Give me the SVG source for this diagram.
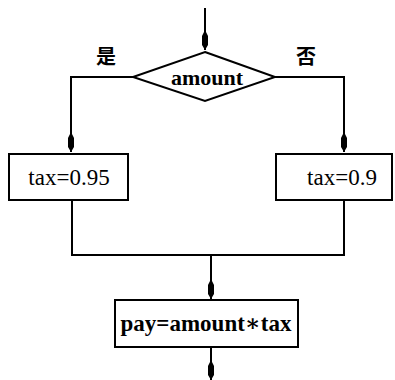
<svg xmlns="http://www.w3.org/2000/svg" width="395" height="380" viewBox="0 0 395 380">
<style>
.ln{fill:none;stroke:#000;stroke-width:2}
.bx{fill:#fff;stroke:#000;stroke-width:2}
.ah{fill:#000}
.t{font-family:"Liberation Serif","DejaVu Serif","Times New Roman",serif;text-anchor:middle;fill:#000}
.cn{font-family:"Noto Sans CJK SC","Noto Sans CJK JP",sans-serif;font-size:20px;font-weight:bold;text-anchor:middle;fill:#000}
</style>
<defs>
<marker id="ah" markerUnits="userSpaceOnUse" markerWidth="18" markerHeight="8" viewBox="0 0 18 8" refX="18" refY="4" orient="auto">
<path class="ah" d="M0,3 L4,1 L13,1 L18,4 L13,7 L4,7 L0,5 z"/>
</marker>
</defs>
<rect width="395" height="380" fill="#fff"/>
<g id="connectors">
<line class="ln" x1="205" y1="8" x2="205" y2="50" marker-end="url(#ah)"/>
<polyline class="ln" points="133,77 71,77 71,152" marker-end="url(#ah)"/>
<polyline class="ln" points="275,77 344,77 344,152" marker-end="url(#ah)"/>
<polyline class="ln" points="72,200 72,255 344,255 344,200"/>
<line class="ln" x1="211" y1="255" x2="211" y2="299" marker-end="url(#ah)"/>
<line class="ln" x1="211" y1="347" x2="211" y2="380" marker-end="url(#ah)"/>
</g>
<g id="decision">
<polygon class="bx" points="205,52 275,77 205,101 133,77"/>
<text class="t" x="207" y="85" font-size="22" font-weight="bold">amount</text>
</g>
<g id="label-yes"><text class="cn" x="106" y="64">是</text></g>
<g id="label-no"><text class="cn" x="306" y="64">否</text></g>
<g id="box-left">
<rect class="bx" x="9" y="154" width="119" height="46"/>
<text class="t" x="69" y="185" font-size="23">tax=0.95</text>
</g>
<g id="box-right">
<rect class="bx" x="276" y="154" width="116" height="46"/>
<text class="t" x="342" y="185" font-size="23">tax=0.9</text>
</g>
<g id="box-pay">
<rect class="bx" x="115" y="300" width="183" height="47"/>
<text class="t" x="206" y="331" font-size="23" font-weight="bold">pay=amount∗tax</text>
</g>
</svg>
